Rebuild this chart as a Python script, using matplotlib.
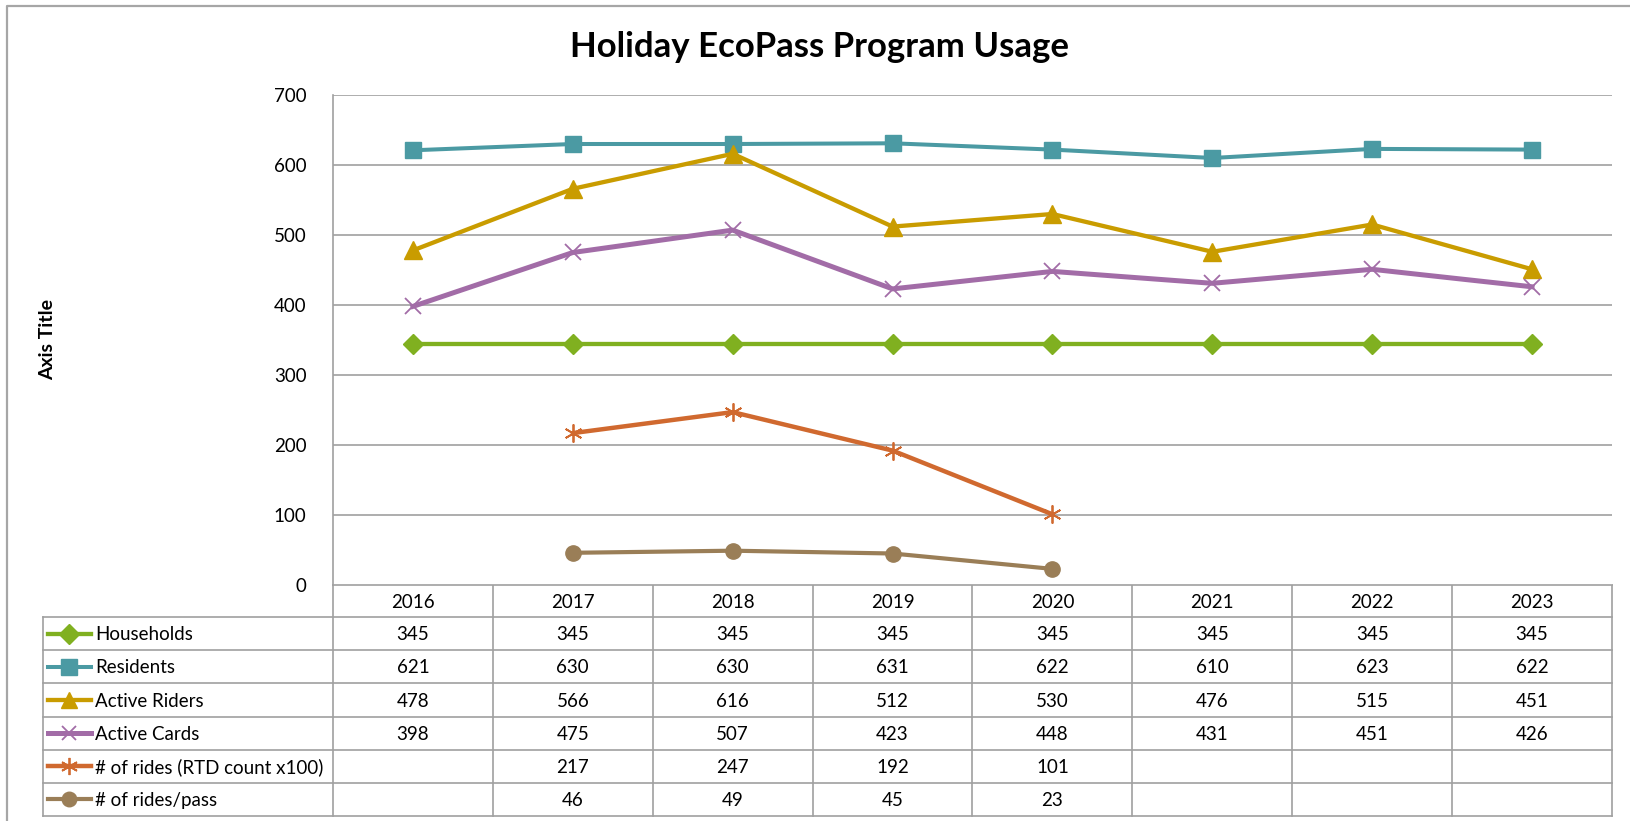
import numpy as np
import matplotlib.pyplot as plt
from matplotlib.lines import Line2D

plt.rcParams['font.family'] = ['Lato', 'DejaVu Sans']

# data
years = ['2016', '2017', '2018', '2019', '2020', '2021', '2022', '2023']
households = [345, 345, 345, 345, 345, 345, 345, 345]
residents = [621, 630, 630, 631, 622, 610, 623, 622]
active_riders = [478, 566, 616, 512, 530, 476, 515, 451]
active_cards = [398, 475, 507, 423, 448, 431, 451, 426]
rides_x100 = [np.nan, 217, 247, 192, 101, np.nan, np.nan, np.nan]
rides_per_pass = [np.nan, 46, 49, 45, 23, np.nan, np.nan, np.nan]

names = ['Households', 'Residents', 'Active Riders', 'Active Cards',
         '# of rides (RTD count x100)', '# of rides/pass']
values = [households, residents, active_riders, active_cards, rides_x100, rides_per_pass]

# style per series: colour, marker, marker size, marker edge width, line width
styles = [
    ('#80B020', 'D', 10.5, 1.0, 3.1),
    ('#4B9AA3', 's', 12, 1.0, 2.9),
    ('#C99C00', '^', 12.5, 1.0, 3.1),
    ('#A26CA7', 'x', 11, 1.3, 3.6),
    ('#D0692F', (6, 2, 0), 13, 1.3, 3.2),
    ('#9A7E57', 'o', 11, 1.0, 3.0),
]

grey = '#A0A0A0'
W, H = 1631, 821
fig = plt.figure(figsize=(W / 100, H / 100), dpi=100)

# layout in pixels
left, right, top, zero = 333, 1612, 95, 585
ax = fig.add_axes([left / W, 1 - zero / H, (right - left) / W, (zero - top) / H])
x = np.arange(len(years))
for vals, (c, m, ms, mew, lw) in zip(values, styles):
    ax.plot(x, vals, color=c, lw=lw, marker=m, ms=ms, mfc=c, mec=c, mew=mew,
            clip_on=False, zorder=3)

ax.set_xlim(-0.5, len(years) - 0.5)
ax.set_ylim(0, 700)
ax.set_yticks(np.arange(0, 701, 100))
ax.set_xticks([])
ax.grid(axis='y', color=grey, lw=1.2)
ax.set_axisbelow(True)
for s in ['top', 'right', 'bottom']:
    ax.spines[s].set_visible(False)
ax.spines['left'].set_color(grey)
ax.spines['left'].set_linewidth(1.2)
ax.tick_params(axis='y', length=0, pad=19, labelsize=13.5)

# overlay in pixel coordinates for title, border and data table
ov = fig.add_axes([0, 0, 1, 1], zorder=-1)
ov.set_xlim(0, W)
ov.set_ylim(H, 0)
ov.axis('off')

ov.plot([7, 7, W + 5], [H + 5, 6, 6], color='#A6A6A6', lw=1.6)
ov.text(820, 47, 'Holiday EcoPass Program Usage', ha='center', va='center',
        fontsize=25, fontweight='bold')
ov.text(48, 340, 'Axis Title', rotation=90, ha='center', va='center',
        fontsize=14, fontweight='bold')

colw = (right - left) / len(years)
head_bot = 617.3
row_h = 33.1
table_bot = head_bot + row_h * len(names)
key_left = 43

ov.plot([left, right], [zero, zero], color=grey, lw=1.2)
for i in range(len(names) + 1):
    y = head_bot + i * row_h
    ov.plot([key_left, right], [y, y], color=grey, lw=1.2)
ov.plot([key_left, key_left], [head_bot, table_bot], color=grey, lw=1.2)
for j in range(len(years) + 1):
    xx = left + j * colw
    ov.plot([xx, xx], [zero, table_bot], color=grey, lw=1.2)

fs = 13.5
for j, yr in enumerate(years):
    ov.text(left + (j + 0.5) * colw, (zero + head_bot) / 2 + 1, yr,
            ha='center', va='center', fontsize=fs)

for i, (name, vals, (c, m, ms, mew, lw)) in enumerate(zip(names, values, styles)):
    yc = head_bot + (i + 0.5) * row_h
    ov.add_line(Line2D([48, 91], [yc, yc], color=c, lw=lw))
    ov.add_line(Line2D([69.5], [yc], marker=m, ms=ms * 0.95, mfc=c, mec=c, mew=mew, color=c))
    ov.text(95, yc + 1, name, ha='left', va='center', fontsize=fs)
    for j, v in enumerate(vals):
        if not np.isnan(v):
            ov.text(left + (j + 0.5) * colw, yc + 1, f'{v:.0f}',
                    ha='center', va='center', fontsize=fs)

fig.savefig('out.png', dpi=100)
